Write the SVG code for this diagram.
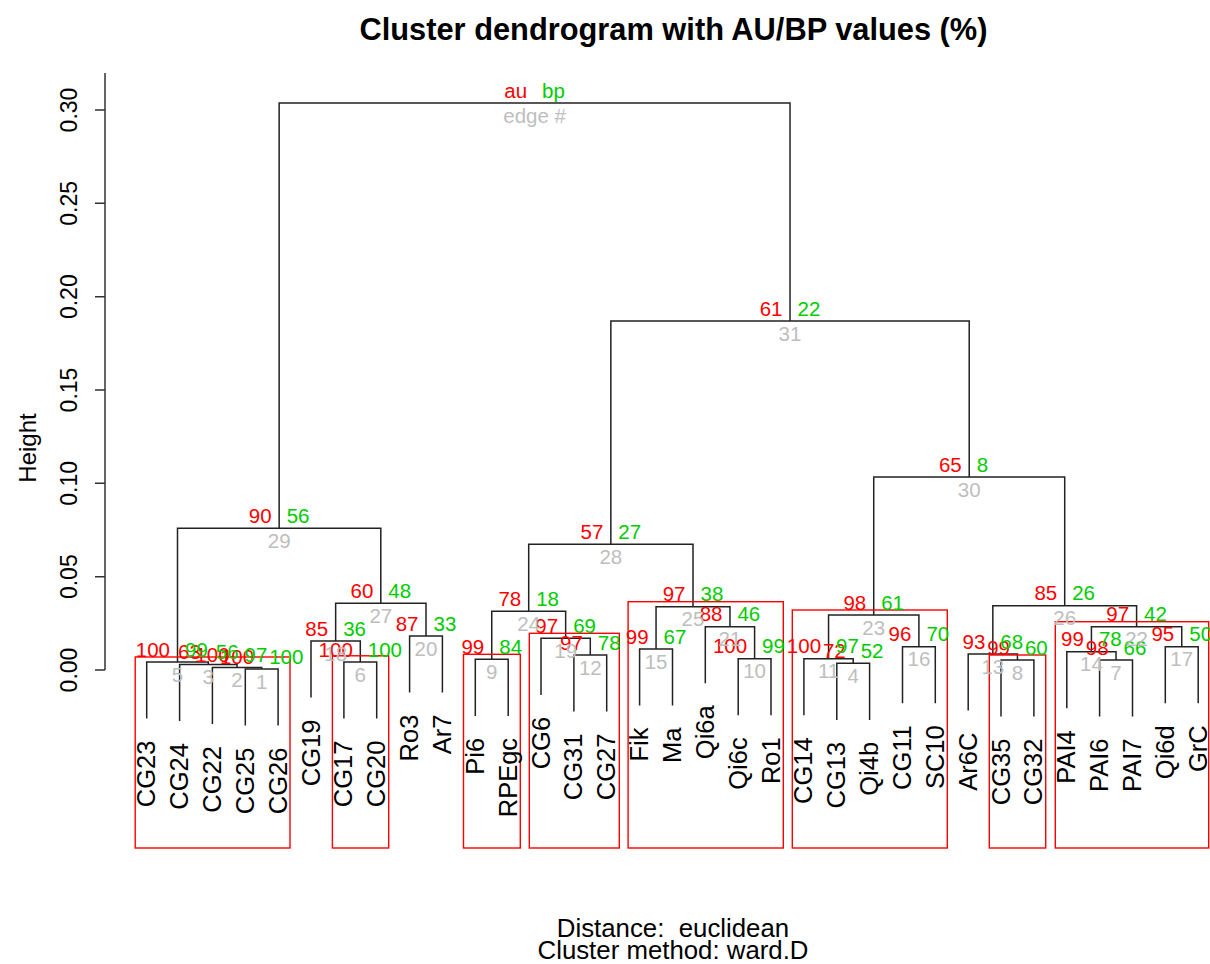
<svg xmlns="http://www.w3.org/2000/svg" width="1210" height="964" viewBox="0 0 1210 964">
<style>
  text { font-family: "Liberation Sans", Arial, sans-serif; }
  .ttl { font-size: 30.8px; font-weight: bold; fill: #000; text-anchor: middle; }
  .sub { font-size: 25.8px; fill: #000; text-anchor: middle; white-space: pre; }
  .ylab { font-size: 24px; fill: #000; text-anchor: middle; }
  .tick { font-size: 23px; fill: #000; text-anchor: middle; }
  .leaf { font-size: 25.5px; fill: #000; text-anchor: end; }
  .au { font-size: 20.5px; fill: #FF0000; text-anchor: end; }
  .bp { font-size: 20.5px; fill: #00CD00; text-anchor: start; }
  .ed { font-size: 20.5px; fill: #BEBEBE; text-anchor: middle; }
  .ln { fill: none; stroke: #222; stroke-width: 1.5; }
  .ax { fill: none; stroke: #333; stroke-width: 1.5; }
  .rc { fill: none; stroke: #FF0000; stroke-width: 1.4; }
</style>
<rect width="1210" height="964" fill="#fff"/>

<!-- titles -->
<text class="ttl" x="673.5" y="40">Cluster dendrogram with AU/BP values (%)</text>
<text class="sub" x="673" y="937" xml:space="preserve">Distance:  euclidean</text>
<text class="sub" x="673" y="959">Cluster method: ward.D</text>

<!-- height axis -->
<g id="axis">
  <path class="ax" d="M105,73 V670 M95,670 H105 M95,576.7 H105 M95,483.3 H105 M95,390 H105 M95,296.7 H105 M95,203.3 H105 M95,110 H105"/>
  <text class="tick" transform="translate(77,670) rotate(-90)">0.00</text>
  <text class="tick" transform="translate(77,576.7) rotate(-90)">0.05</text>
  <text class="tick" transform="translate(77,483.3) rotate(-90)">0.10</text>
  <text class="tick" transform="translate(77,390) rotate(-90)">0.15</text>
  <text class="tick" transform="translate(77,296.7) rotate(-90)">0.20</text>
  <text class="tick" transform="translate(77,203.3) rotate(-90)">0.25</text>
  <text class="tick" transform="translate(77,110) rotate(-90)">0.30</text>
  <text class="ylab" transform="translate(36,448) rotate(-90)">Height</text>
</g>

<!-- dendrogram branches: each merge drawn as left leg, bar, right leg -->
<g id="connectors">
  <path class="ln" d="M245.3,725.6 V669 H278.1 V725.6"/>
  <path class="ln" d="M212.4,724.1 V667.5 H261.7 V669"/>
  <path class="ln" d="M179.6,721.1 V664.5 H237.05 V667.5"/>
  <path class="ln" d="M146.7,718.6 V662 H208.3 V664.5"/>
  <path class="ln" d="M343.9,718.6 V662 H376.7 V718.6"/>
  <path class="ln" d="M311,697.6 V641 H360.3 V662"/>
  <path class="ln" d="M409.6,692.6 V636 H442.4 V692.6"/>
  <path class="ln" d="M335.65,641 V603.3 H426 V636"/>
  <path class="ln" d="M177.5,662 V528.3 H380.8 V603.3"/>
  <path class="ln" d="M475.3,715.9 V659.3 H508.2 V715.9"/>
  <path class="ln" d="M573.9,711.6 V655 H606.7 V711.6"/>
  <path class="ln" d="M541,694.9 V638.3 H590.3 V655"/>
  <path class="ln" d="M491.75,659.3 V611.3 H565.65 V638.3"/>
  <path class="ln" d="M639.6,705.6 V649 H672.5 V705.6"/>
  <path class="ln" d="M738.2,715.3 V658.7 H771 V715.3"/>
  <path class="ln" d="M705.3,683.3 V626.7 H754.6 V658.7"/>
  <path class="ln" d="M656.05,649 V606.7 H729.95 V626.7"/>
  <path class="ln" d="M528.7,611.3 V544.3 H693 V606.7"/>
  <path class="ln" d="M836.8,719.9 V663.3 H869.6 V719.9"/>
  <path class="ln" d="M803.9,715.3 V658.7 H853.2 V663.3"/>
  <path class="ln" d="M902.5,703.3 V646.7 H935.3 V703.3"/>
  <path class="ln" d="M828.55,658.7 V615 H918.9 V646.7"/>
  <path class="ln" d="M1001,716.6 V660 H1033.9 V716.6"/>
  <path class="ln" d="M968.2,710.6 V654 H1017.45 V660"/>
  <path class="ln" d="M1099.6,716.6 V660 H1132.5 V716.6"/>
  <path class="ln" d="M1066.8,708.3 V651.7 H1116.05 V660"/>
  <path class="ln" d="M1165.3,703.3 V646.7 H1198.2 V703.3"/>
  <path class="ln" d="M1091.43,651.7 V626.7 H1181.75 V646.7"/>
  <path class="ln" d="M992.83,654 V605.7 H1136.59 V626.7"/>
  <path class="ln" d="M873.73,615 V477 H1064.71 V605.7"/>
  <path class="ln" d="M610.85,544.3 V321 H969.22 V477"/>
  <path class="ln" d="M279.15,528.3 V103 H790.03 V321"/>
</g>

<!-- significant clusters (au >= 95) -->
<g id="clusters">
  <rect class="rc" x="135.2" y="657" width="154.8" height="191"/>
  <rect class="rc" x="332.4" y="655.8" width="56.3" height="192.2"/>
  <rect class="rc" x="463.5" y="654.3" width="56.8" height="193.7"/>
  <rect class="rc" x="529.3" y="633.3" width="90" height="214.7"/>
  <rect class="rc" x="628.1" y="601.7" width="155.2" height="246.3"/>
  <rect class="rc" x="792.3" y="610" width="155" height="238"/>
  <rect class="rc" x="989.3" y="655" width="56.4" height="193"/>
  <rect class="rc" x="1055.3" y="621.7" width="153.4" height="226.3"/>
</g>

<!-- merge nodes: au (left), bp (right), edge number (below) -->
<g id="edge1"><text class="au" x="254.2" y="663.5">100</text><text class="bp" x="269.2" y="663.5">100</text><text class="ed" x="261.7" y="688.5">1</text></g>
<g id="edge2"><text class="au" x="229.55" y="662">100</text><text class="bp" x="244.55" y="662">97</text><text class="ed" x="237.05" y="687">2</text></g>
<g id="edge3"><text class="au" x="200.8" y="659">63</text><text class="bp" x="215.8" y="659">56</text><text class="ed" x="208.3" y="684">3</text></g>
<g id="edge5"><text class="au" x="170" y="656.5">100</text><text class="bp" x="185" y="656.5">99</text><text class="ed" x="177.5" y="681.5">5</text></g>
<g id="edge6"><text class="au" x="352.8" y="656.5">100</text><text class="bp" x="367.8" y="656.5">100</text><text class="ed" x="360.3" y="681.5">6</text></g>
<g id="edge18"><text class="au" x="328.15" y="635.5">85</text><text class="bp" x="343.15" y="635.5">36</text><text class="ed" x="335.65" y="660.5">18</text></g>
<g id="edge20"><text class="au" x="418.5" y="630.5">87</text><text class="bp" x="433.5" y="630.5">33</text><text class="ed" x="426" y="655.5">20</text></g>
<g id="edge27"><text class="au" x="373.3" y="597.8">60</text><text class="bp" x="388.3" y="597.8">48</text><text class="ed" x="380.8" y="622.8">27</text></g>
<g id="edge29"><text class="au" x="271.65" y="522.8">90</text><text class="bp" x="286.65" y="522.8">56</text><text class="ed" x="279.15" y="547.8">29</text></g>
<g id="edge9"><text class="au" x="484.25" y="653.8">99</text><text class="bp" x="499.25" y="653.8">84</text><text class="ed" x="491.75" y="678.8">9</text></g>
<g id="edge12"><text class="au" x="582.8" y="649.5">97</text><text class="bp" x="597.8" y="649.5">78</text><text class="ed" x="590.3" y="674.5">12</text></g>
<g id="edge19"><text class="au" x="558.15" y="632.8">97</text><text class="bp" x="573.15" y="632.8">69</text><text class="ed" x="565.65" y="657.8">19</text></g>
<g id="edge24"><text class="au" x="521.2" y="605.8">78</text><text class="bp" x="536.2" y="605.8">18</text><text class="ed" x="528.7" y="630.8">24</text></g>
<g id="edge15"><text class="au" x="648.55" y="643.5">99</text><text class="bp" x="663.55" y="643.5">67</text><text class="ed" x="656.05" y="668.5">15</text></g>
<g id="edge10"><text class="au" x="747.1" y="653.2">100</text><text class="bp" x="762.1" y="653.2">99</text><text class="ed" x="754.6" y="678.2">10</text></g>
<g id="edge21"><text class="au" x="722.45" y="621.2">88</text><text class="bp" x="737.45" y="621.2">46</text><text class="ed" x="729.95" y="646.2">21</text></g>
<g id="edge25"><text class="au" x="685.5" y="601.2">97</text><text class="bp" x="700.5" y="601.2">38</text><text class="ed" x="693" y="626.2">25</text></g>
<g id="edge28"><text class="au" x="603.35" y="538.8">57</text><text class="bp" x="618.35" y="538.8">27</text><text class="ed" x="610.85" y="563.8">28</text></g>
<g id="edge4"><text class="au" x="845.7" y="657.8">72</text><text class="bp" x="860.7" y="657.8">52</text><text class="ed" x="853.2" y="682.8">4</text></g>
<g id="edge11"><text class="au" x="821.05" y="653.2">100</text><text class="bp" x="836.05" y="653.2">97</text><text class="ed" x="828.55" y="678.2">11</text></g>
<g id="edge16"><text class="au" x="911.4" y="641.2">96</text><text class="bp" x="926.4" y="641.2">70</text><text class="ed" x="918.9" y="666.2">16</text></g>
<g id="edge23"><text class="au" x="866.23" y="609.5">98</text><text class="bp" x="881.23" y="609.5">61</text><text class="ed" x="873.73" y="634.5">23</text></g>
<g id="edge8"><text class="au" x="1009.95" y="654.5">99</text><text class="bp" x="1024.95" y="654.5">60</text><text class="ed" x="1017.45" y="679.5">8</text></g>
<g id="edge13"><text class="au" x="985.33" y="648.5">93</text><text class="bp" x="1000.33" y="648.5">68</text><text class="ed" x="992.83" y="673.5">13</text></g>
<g id="edge7"><text class="au" x="1108.55" y="654.5">98</text><text class="bp" x="1123.55" y="654.5">66</text><text class="ed" x="1116.05" y="679.5">7</text></g>
<g id="edge14"><text class="au" x="1083.93" y="646.2">99</text><text class="bp" x="1098.93" y="646.2">78</text><text class="ed" x="1091.43" y="671.2">14</text></g>
<g id="edge17"><text class="au" x="1174.25" y="641.2">95</text><text class="bp" x="1189.25" y="641.2">50</text><text class="ed" x="1181.75" y="666.2">17</text></g>
<g id="edge22"><text class="au" x="1129.09" y="621.2">97</text><text class="bp" x="1144.09" y="621.2">42</text><text class="ed" x="1136.59" y="646.2">22</text></g>
<g id="edge26"><text class="au" x="1057.21" y="600.2">85</text><text class="bp" x="1072.21" y="600.2">26</text><text class="ed" x="1064.71" y="625.2">26</text></g>
<g id="edge30"><text class="au" x="961.72" y="471.5">65</text><text class="bp" x="976.72" y="471.5">8</text><text class="ed" x="969.22" y="496.5">30</text></g>
<g id="edge31"><text class="au" x="782.53" y="315.5">61</text><text class="bp" x="797.53" y="315.5">22</text><text class="ed" x="790.03" y="340.5">31</text></g>
<g id="root"><text class="au" x="527.09" y="97.5">au</text><text class="bp" x="542.09" y="97.5">bp</text><text class="ed" x="534.59" y="122.5">edge #</text></g>

<!-- leaves -->
<g id="leaf-CG23"><text class="leaf" transform="translate(155.2,740.6) rotate(-90)">CG23</text></g>
<g id="leaf-CG24"><text class="leaf" transform="translate(188.1,743.1) rotate(-90)">CG24</text></g>
<g id="leaf-CG22"><text class="leaf" transform="translate(220.9,746.1) rotate(-90)">CG22</text></g>
<g id="leaf-CG25"><text class="leaf" transform="translate(253.8,747.6) rotate(-90)">CG25</text></g>
<g id="leaf-CG26"><text class="leaf" transform="translate(286.6,747.6) rotate(-90)">CG26</text></g>
<g id="leaf-CG19"><text class="leaf" transform="translate(319.5,719.6) rotate(-90)">CG19</text></g>
<g id="leaf-CG17"><text class="leaf" transform="translate(352.4,740.6) rotate(-90)">CG17</text></g>
<g id="leaf-CG20"><text class="leaf" transform="translate(385.2,740.6) rotate(-90)">CG20</text></g>
<g id="leaf-Ro3"><text class="leaf" transform="translate(418.1,714.6) rotate(-90)">Ro3</text></g>
<g id="leaf-Ar7"><text class="leaf" transform="translate(450.9,714.6) rotate(-90)">Ar7</text></g>
<g id="leaf-Pi6"><text class="leaf" transform="translate(483.8,737.9) rotate(-90)">Pi6</text></g>
<g id="leaf-RPEgc"><text class="leaf" transform="translate(516.7,737.9) rotate(-90)">RPEgc</text></g>
<g id="leaf-CG6"><text class="leaf" transform="translate(549.5,716.9) rotate(-90)">CG6</text></g>
<g id="leaf-CG31"><text class="leaf" transform="translate(582.4,733.6) rotate(-90)">CG31</text></g>
<g id="leaf-CG27"><text class="leaf" transform="translate(615.2,733.6) rotate(-90)">CG27</text></g>
<g id="leaf-Fik"><text class="leaf" transform="translate(648.1,727.6) rotate(-90)">Fik</text></g>
<g id="leaf-Ma"><text class="leaf" transform="translate(681,727.6) rotate(-90)">Ma</text></g>
<g id="leaf-Qi6a"><text class="leaf" transform="translate(713.8,705.3) rotate(-90)">Qi6a</text></g>
<g id="leaf-Qi6c"><text class="leaf" transform="translate(746.7,737.3) rotate(-90)">Qi6c</text></g>
<g id="leaf-Ro1"><text class="leaf" transform="translate(779.5,737.3) rotate(-90)">Ro1</text></g>
<g id="leaf-CG14"><text class="leaf" transform="translate(812.4,737.3) rotate(-90)">CG14</text></g>
<g id="leaf-CG13"><text class="leaf" transform="translate(845.3,741.9) rotate(-90)">CG13</text></g>
<g id="leaf-Qi4b"><text class="leaf" transform="translate(878.1,741.9) rotate(-90)">Qi4b</text></g>
<g id="leaf-CG11"><text class="leaf" transform="translate(911,725.3) rotate(-90)">CG11</text></g>
<g id="leaf-SC10"><text class="leaf" transform="translate(943.8,725.3) rotate(-90)">SC10</text></g>
<g id="leaf-Ar6C"><text class="leaf" transform="translate(976.7,732.6) rotate(-90)">Ar6C</text></g>
<g id="leaf-CG35"><text class="leaf" transform="translate(1009.5,738.6) rotate(-90)">CG35</text></g>
<g id="leaf-CG32"><text class="leaf" transform="translate(1042.4,738.6) rotate(-90)">CG32</text></g>
<g id="leaf-PAI4"><text class="leaf" transform="translate(1075.3,730.3) rotate(-90)">PAI4</text></g>
<g id="leaf-PAI6"><text class="leaf" transform="translate(1108.1,738.6) rotate(-90)">PAI6</text></g>
<g id="leaf-PAI7"><text class="leaf" transform="translate(1141,738.6) rotate(-90)">PAI7</text></g>
<g id="leaf-Qi6d"><text class="leaf" transform="translate(1173.8,725.3) rotate(-90)">Qi6d</text></g>
<g id="leaf-GrC"><text class="leaf" transform="translate(1206.7,725.3) rotate(-90)">GrC</text></g>
</svg>
